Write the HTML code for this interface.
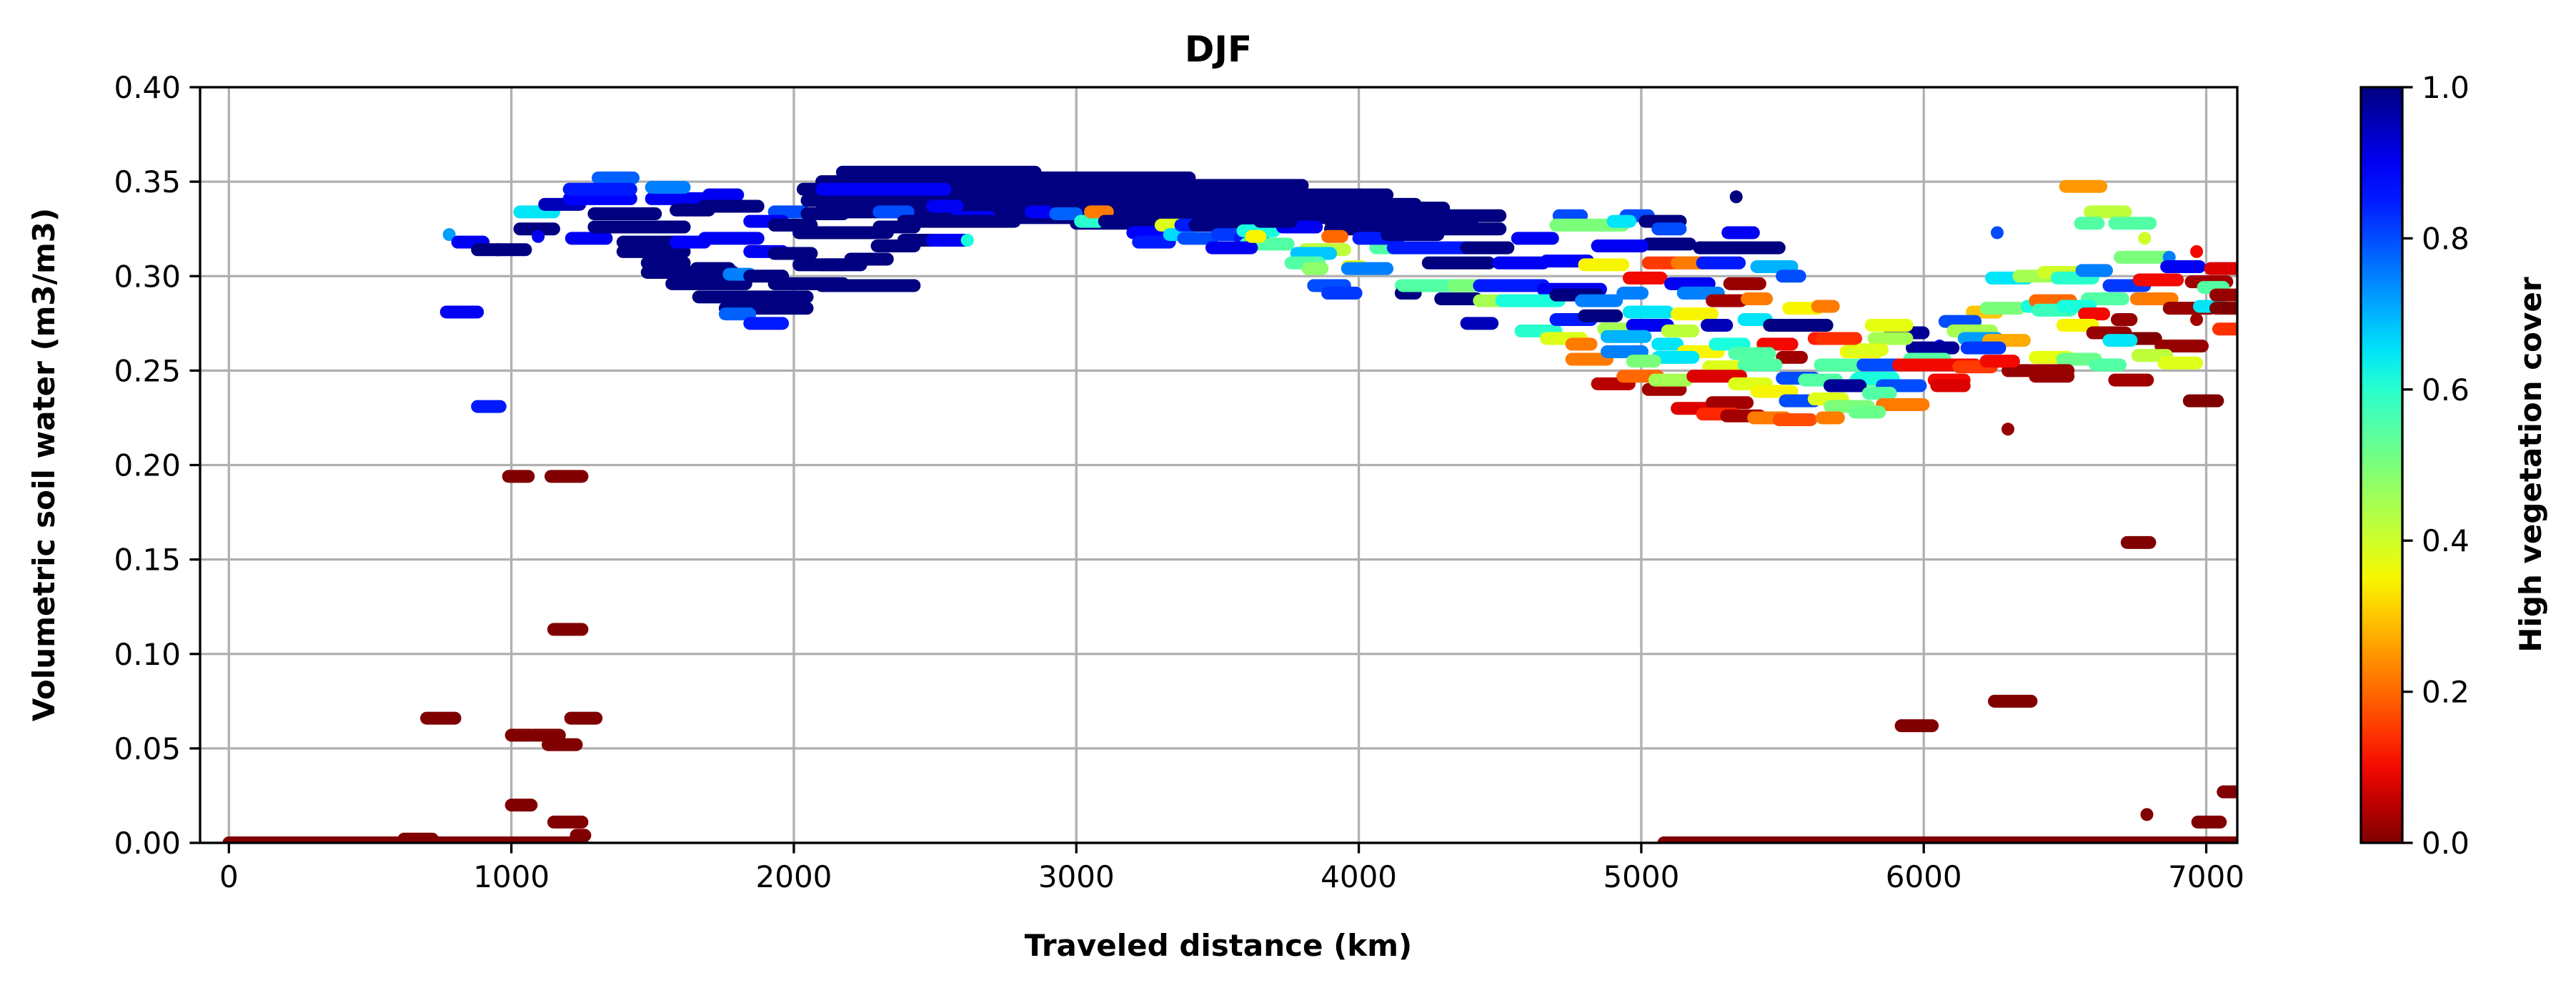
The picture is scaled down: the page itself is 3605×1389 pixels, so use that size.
<!DOCTYPE html>
<html><head><meta charset="utf-8"><style>
html,body{margin:0;padding:0;background:#fff;}
svg{display:block;font-family:"DejaVu Sans","Liberation Sans",sans-serif;}
</style></head><body>
<svg id="chart" width="3605" height="1389" viewBox="0 0 3605 1389" xmlns="http://www.w3.org/2000/svg">
<defs>
<clipPath id="plotclip"><rect x="280" y="122" width="2851" height="1057"/></clipPath>
<linearGradient id="jetgrad" x1="0" y1="1" x2="0" y2="0"></linearGradient>
</defs>
<rect width="3605" height="1389" fill="#fff"/>
<g id="grid"></g>
<g id="marks" clip-path="url(#plotclip)"></g>
<rect x="280" y="122" width="2851" height="1057" fill="none" stroke="#000" stroke-width="3.3"/>
<g id="axes"></g>
<text x="1705" y="86" text-anchor="middle" font-size="50" font-weight="bold">DJF</text>
<text x="1705" y="1337" text-anchor="middle" font-size="42" font-weight="bold">Traveled distance (km)</text>
<text x="0" y="0" transform="translate(76,650) rotate(-90)" text-anchor="middle" font-size="42" font-weight="bold">Volumetric soil water (m3/m3)</text>
<rect id="cbar" x="3304" y="122" width="58" height="1057" fill="url(#jetgrad)" stroke="#000" stroke-width="3.3"/>
<g id="cbaxis"></g>
<text x="0" y="0" transform="translate(3556,650) rotate(-90)" text-anchor="middle" font-size="42" font-weight="bold">High vegetation cover</text>
</svg>
<script>
const xTicks=[0,1000,2000,3000,4000,5000,6000,7000];
const yTicks=[0,0.05,0.10,0.15,0.20,0.25,0.30,0.35,0.40];
const yTickLabels=["0.00","0.05","0.10","0.15","0.20","0.25","0.30","0.35","0.40"];
const cbTicks=[0,0.2,0.4,0.6,0.8,1.0];
const cbTickLabels=["0.0","0.2","0.4","0.6","0.8","1.0"];
// segments: start distance, end distance, soil water, vegetation cover
const segs=[
[0,1250,0,0],[5080,7110,0,0],[1230,1260,0.004,0],[620,720,0.002,0],
[700,800,.066,0],[990,1060,.194,0],[1140,1250,.194,0],[1150,1250,.113,0],[1000,1070,.057,0],[1080,1170,.057,0],[1130,1230,.052,0],[1210,1300,.066,0],[1000,1070,.020,0],[1150,1250,.011,0],
[5920,6030,.062,0],[6250,6380,.075,0],[6720,6800,.159,0],[6790,6790,.015,0],[6970,7050,.011,0],[7060,7110,.027,0],[6940,7040,.234,0],[6298,6298,.219,.02],
[770,880,.281,.9],[880,960,.231,.85],[780,780,.322,.72],[810,900,.318,.9],[880,960,.314,1],[950,1050,.314,1],
[1030,1150,.334,.65],[1118,1242,.338,.95],[1030,1150,.325,1],[1095,1095,.321,.9],[1213,1336,.320,.9],[1205,1423,.341,.88],[1307,1431,.352,.78],[1205,1423,.346,.85],[1293,1510,.333,1],[1293,1612,.326,1],[1395,1612,.318,1],[1395,1612,.313,1],[1481,1612,.307,1],[1481,1786,.302,1],[1568,1830,.296,1],[1663,2047,.289,1],[1757,2047,.283,1],[1757,1844,.280,.78],[1844,1960,.275,.85],[1496,1699,.341,.9],[1496,1612,.347,.75],[1583,1699,.335,1],[1699,1801,.343,.9],[1684,1873,.337,1],[1931,2033,.334,.8],[1844,1960,.329,.9],[1931,2062,.327,1],[2018,2175,.323,1],[1583,1684,.318,.88],[1684,1873,.320,.9],[1844,1960,.313,.9],[1931,2062,.312,1],[2018,2175,.306,1],[1655,1771,.304,1],[1771,1844,.301,.75],[1844,1960,.300,1],[1931,2175,.296,1],[2033,2175,.346,1],[2047,2175,.340,1],[2047,2175,.333,1],
[2172,2854,.355,1],[2854,3400,.352,1],[3400,3800,.348,1],[3800,4100,.343,1],
[2099,3000,.350,1],[3000,3600,.347,1],[3600,4000,.342,1],[4000,4300,.336,1],
[2099,3000,.346,1],[3000,3700,.343,1],[3700,4200,.338,1],[4200,4500,.332,1],
[2099,3000,.342,1],[3000,3800,.339,1],[3800,4300,.333,1],
[2099,3000,.338,1],[3000,3900,.335,1],[3900,4400,.329,1],
[2099,3000,.334,1],[3000,3900,.331,1],[3900,4500,.325,1],
[2389,3000,.331,1],[3000,3700,.328,1],
[2099,2535,.346,.9],[2302,2404,.334,.8],[2491,2578,.337,.9],[2578,2694,.331,.88],[2840,2898,.334,.9],[2927,3000,.333,.78],
[2302,2426,.326,1],[2099,2331,.323,1],[2389,2781,.329,1],[2295,2426,.316,1],[2389,2506,.319,1],[2491,2614,.319,.9],[2614,2614,.319,.62],[2201,2331,.309,1],[2099,2237,.306,1],[2099,2426,.295,1],
[3015,3080,.329,.6],[3050,3110,.334,.22],[3100,3220,.329,1],[3200,3310,.323,.88],[3220,3330,.318,.85],[3300,3380,.327,.38],[3330,3400,.322,.66],[3380,3480,.320,.8],[3370,3480,.327,.85],[3420,3520,.327,1],[3500,3570,.322,.82],[3580,3660,.320,.85],[3600,3750,.317,.55],[3480,3620,.315,.9],[3590,3700,.324,.62],[3620,3650,.321,.35],[3730,3850,.326,.9],[3650,3760,.329,1],[3810,3950,.314,.42],[3780,3900,.312,.68],[3760,3860,.307,.55],[3820,3870,.304,.48],[3960,4010,.305,.38],[3960,4100,.304,.75],[4060,4150,.315,.55],[3890,3940,.321,.2],[3840,3950,.295,.8],[3890,3990,.291,.82],[4150,4250,.295,.55],[4150,4200,.291,1],[4290,4360,.288,1],[4000,4140,.320,.85],[4100,4280,.322,1],
[5336,5336,.342,1],[4709,4788,.332,.8],[4946,5025,.332,.8],[4698,4935,.327,.5],[4900,4960,.329,.65],[5014,5138,.329,1],[5059,5138,.325,.8],[5307,5397,.323,.9],[5206,5488,.315,1],[5025,5172,.317,1],[4845,5003,.316,.9],[4562,4686,.32,.9],[4122,4382,.315,.85],[4382,4528,.315,1],[4246,4461,.307,1],[4495,4653,.307,.9],[4664,4811,.308,.88],[4799,4935,.306,.35],[5025,5206,.307,.15],[5127,5217,.307,.22],[5217,5347,.307,.85],[5409,5533,.305,.7],[5499,5561,.300,.8],[4957,5070,.299,.1],[5104,5240,.296,.9],[5313,5420,.296,.02],[5149,5273,.291,.75],[5251,5353,.287,.03],[5375,5443,.288,.22],[5522,5624,.283,.35],[5624,5680,.284,.22],[4156,4336,.295,.55],[4336,4438,.295,.5],[4427,4653,.295,.85],[4653,4856,.293,.9],[4303,4416,.288,1],[4427,4596,.287,.45],[4506,4709,.287,.62],[4698,4845,.29,1],[4788,4912,.287,.75],[4935,5003,.291,.75],[4382,4472,.275,.95],[4574,4698,.271,.6],[4664,4788,.267,.38],[4754,4822,.264,.22],[4754,4879,.256,.22],[4698,4822,.277,.85],[4799,4912,.279,1],[4867,5003,.272,.45],[4969,5093,.274,.9],[4957,5093,.281,.65],[5093,5183,.271,.42],[5127,5251,.28,.35],[5233,5302,.274,.95],[5364,5443,.277,.65],[5454,5657,.274,1],[5612,5759,.267,.12],[4879,5014,.268,.7],[4879,5003,.26,.75],[5059,5127,.264,.65],[5149,5273,.26,.35],[5059,5183,.257,.65],[5262,5364,.264,.62],[5431,5533,.264,.1],[5499,5567,.257,.03],[5330,5454,.259,.55],[4969,5048,.255,.5],[5239,5352,.252,.38],[5364,5477,.253,.55],[5634,5804,.253,.55],[5770,5893,.253,.8],[5725,5838,.26,.35],[4845,4957,.243,.05],[4935,5059,.247,.2],[5025,5138,.24,.03],[5048,5161,.245,.45],[5183,5352,.247,.08],[5330,5443,.243,.38],[5409,5533,.239,.35],[5499,5612,.246,.8],[5578,5691,.245,.55],[5668,5759,.242,.98],[5759,5893,.245,.55],[5127,5251,.230,.08],[5251,5375,.233,.03],[5217,5330,.227,.13],[5302,5420,.226,.03],[5398,5510,.225,.22],[5488,5600,.224,.17],[5510,5612,.234,.8],[5612,5713,.235,.38],[5680,5804,.231,.5],
[6502,6627,.3475,.25],[6589,6714,.334,.42],[6555,6618,.328,.55],[6676,6802,.328,.55],[6782,6782,.32,.4],[6260,6260,.323,.8],[6695,6869,.310,.5],[6869,6869,.31,.75],[6966,6966,.313,.1],[6860,6976,.305,.9],[7015,7110,.304,.08],[6240,6366,.299,.65],[6337,6453,.3,.45],[6424,6540,.302,.4],[6472,6598,.299,.6],[6560,6647,.303,.75],[6656,6782,.295,.82],[6763,6898,.298,.1],[6947,7073,.297,.03],[6990,7060,.294,.55],[6579,6705,.288,.55],[6753,6879,.288,.22],[6869,7015,.283,.02],[6976,7053,.284,.65],[7034,7110,.29,.02],[7034,7110,.283,0],[6966,6966,.277,.03],[7044,7110,.272,.14],[6172,6260,.281,.3],[6221,6337,.283,.5],[6366,6433,.284,.62],[6395,6520,.287,.2],[6404,6520,.282,.58],[6492,6589,.284,.62],[6569,6637,.280,.1],[6492,6598,.274,.35],[6685,6734,.277,.02],[6598,6714,.27,.02],[6714,6821,.267,0],[6656,6734,.266,.65],[6840,6986,.263,.02],[6758,6860,.258,.42],[6850,6966,.254,.38],[6395,6511,.257,.37],[6492,6608,.256,.52],[6608,6695,.253,.55],[6298,6511,.250,.02],[6395,6511,.247,.02],[6676,6792,.245,.03],[6075,6182,.276,.8],[6104,6240,.271,.45],[6143,6260,.267,.72],[6230,6356,.266,.27],[6153,6269,.262,.82],[6056,6056,.263,.9],[5959,6104,.262,.98],[5882,5998,.27,.98],[5814,5940,.274,.37],[5824,5940,.267,.45],[5737,5853,.261,.38],[5640,5756,.267,.14],[5950,6075,.256,.55],[5650,5775,.253,.55],[5785,5911,.253,.8],[5911,6182,.253,.1],[6037,6143,.245,.1],[6046,6143,.242,.08],[6124,6240,.252,.15],[6221,6318,.255,.1],[5766,5892,.246,.62],[5679,5775,.242,.98],[5853,5988,.242,.8],[5804,5882,.238,.55],[5853,5998,.232,.22],[5669,5795,.231,.5],[5756,5843,.228,.52],[5640,5698,.225,.22]
];
const xStart=segs.map(s=>s[0]);
const xEnd=segs.map(s=>s[1]);
const soilWater=segs.map(s=>s[2]);
const vegCover=segs.map(s=>s[3]);

const NS="http://www.w3.org/2000/svg";
const L=280,R=3131,T=122,B=1179,XMIN=-102,XMAX=7110,YMIN=0,YMAX=0.4;
function xs(v){return L+(v-XMIN)/(XMAX-XMIN)*(R-L);}
function ys(v){return B-(v-YMIN)/(YMAX-YMIN)*(B-T);}
function interp(pts,t){for(let i=1;i<pts.length;i++){if(t<=pts[i][0]){const a=pts[i-1],b=pts[i];return a[1]+(b[1]-a[1])*(t-a[0])/(b[0]-a[0]);}}return pts[pts.length-1][1];}
function jet(t){t=Math.max(0,Math.min(1,t));
const r=interp([[0,0],[0.35,0],[0.66,1],[0.89,1],[1,0.5]],t);
const g=interp([[0,0],[0.125,0],[0.375,1],[0.64,1],[0.91,0],[1,0]],t);
const b=interp([[0,0.5],[0.11,1],[0.34,1],[0.65,0],[1,0]],t);
return "rgb("+Math.round(r*255)+","+Math.round(g*255)+","+Math.round(b*255)+")";}
function cmap(v){return jet(1-v);}
function el(tag,attrs,parent){const e=document.createElementNS(NS,tag);for(const k in attrs)e.setAttribute(k,attrs[k]);parent.appendChild(e);return e;}

const grid=document.getElementById('grid'),axes=document.getElementById('axes'),marks=document.getElementById('marks');
xTicks.forEach((t,i)=>{
 const gl=el('line',{x1:xs(t),x2:xs(t),y1:T,y2:B,stroke:'#b0b0b0','stroke-width':3.3},grid);
 
 
 const tk=el('line',{x1:xs(t),x2:xs(t),y1:B,y2:B+14.6,stroke:'#000','stroke-width':3.3},axes);
 
 
 const tx=el('text',{x:xs(t),y:B+62,'text-anchor':'middle','font-size':42},axes);
 tx.textContent=String(t);
 
 
});
yTicks.forEach((t,i)=>{
 const gl=el('line',{x1:L,x2:R,y1:ys(t),y2:ys(t),stroke:'#b0b0b0','stroke-width':3.3},grid);
 
 
 const tk=el('line',{x1:L-14.6,x2:L,y1:ys(t),y2:ys(t),stroke:'#000','stroke-width':3.3},axes);
 
 
 const tx=el('text',{x:L-27,y:ys(t)+15,'text-anchor':'end','font-size':42},axes);
 tx.textContent=yTickLabels[i];
 
 
});
for(let i=0;i<segs.length;i++){
 const ln=el('line',{x1:xs(xStart[i]),x2:xs(xEnd[i]),y1:ys(soilWater[i]),y2:ys(soilWater[i]),stroke:cmap(vegCover[i]),'stroke-width':18,'stroke-linecap':'round'},marks);
 
 
}
// colorbar
const grad=document.getElementById('jetgrad');
for(let i=0;i<=20;i++){const v=i/20;el('stop',{offset:v,'stop-color':cmap(v)},grad);}
const cba=document.getElementById('cbaxis');
const CBT=122,CBB=1179,CBR=3362;
cbTicks.forEach((t,i)=>{
 const y=CBB-t*(CBB-CBT);
 const tk=el('line',{x1:CBR,x2:CBR+14.6,y1:y,y2:y,stroke:'#000','stroke-width':3.3},cba);
 
 
 const tx=el('text',{x:CBR+27,y:y+15,'font-size':42},cba);
 tx.textContent=cbTickLabels[i];
 
 
});
</script>
</body></html>
